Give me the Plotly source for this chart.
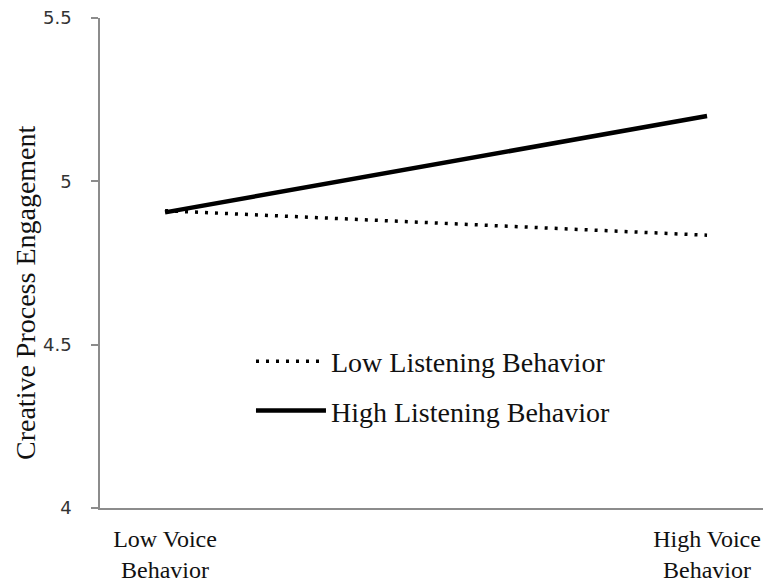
import plotly.graph_objects as go

x_labels = ["Low Voice<br>Behavior", "High Voice<br>Behavior"]
x_pos = [0, 1]
low_listening = [4.91, 4.835]
high_listening = [4.905, 5.2]
y_ticks = [4, 4.5, 5, 5.5]
y_ticktext = ["4", "4.5", "5", "5.5"]
y_title = "Creative Process Engagement"

serif = "Liberation Serif, Times New Roman, serif"

fig = go.Figure()
fig.add_trace(go.Scatter(
    x=x_pos, y=low_listening, mode="lines", name="Low Listening Behavior",
    line=dict(color="black", width=3.5, dash="3px,7px"), legendgroup="a"))
fig.add_trace(go.Scatter(
    x=x_pos, y=high_listening, mode="lines", name="High Listening Behavior",
    line=dict(color="black", width=4.5), legendgroup="b"))

fig.update_layout(
    width=771, height=586,
    margin=dict(l=92, r=8, t=10, b=86, autoexpand=False),
    paper_bgcolor="white", plot_bgcolor="white",
    showlegend=True,
    legend=dict(x=0.225, y=0.35, xanchor="left", yanchor="top",
                font=dict(family=serif, size=28, color="#111"),
                itemwidth=70, tracegroupgap=10, bgcolor="rgba(0,0,0,0)"),
    xaxis=dict(range=[-0.12, 1.118], tickvals=x_pos, ticktext=x_labels,
               showgrid=False, zeroline=False, showline=True, automargin=False,
               linecolor="#8c8c8c", linewidth=1.5, ticks="",
               ticklabelstandoff=8,
               tickfont=dict(family=serif, size=24, color="#111")),
    yaxis=dict(range=[4, 5.5], tickvals=y_ticks, ticktext=y_ticktext,
               showgrid=False, zeroline=False, showline=True, automargin=False,
               linecolor="#8c8c8c", linewidth=1.5, ticks="outside",
               ticklen=7, tickcolor="#8c8c8c", tickwidth=1.5,
               ticklabelstandoff=16, ticklabeloverflow="allow",
               tickfont=dict(family="DejaVu Sans, sans-serif", size=18, color="#333333")),
)
fig.add_annotation(text=y_title, xref="paper", yref="paper",
                   x=(17 - 92) / 671, y=1 - (285 - 10) / 490,
                   xanchor="center", yanchor="middle", textangle=-90,
                   showarrow=False,
                   font=dict(family=serif, size=28, color="#111"))

fig.write_html("out.html")
